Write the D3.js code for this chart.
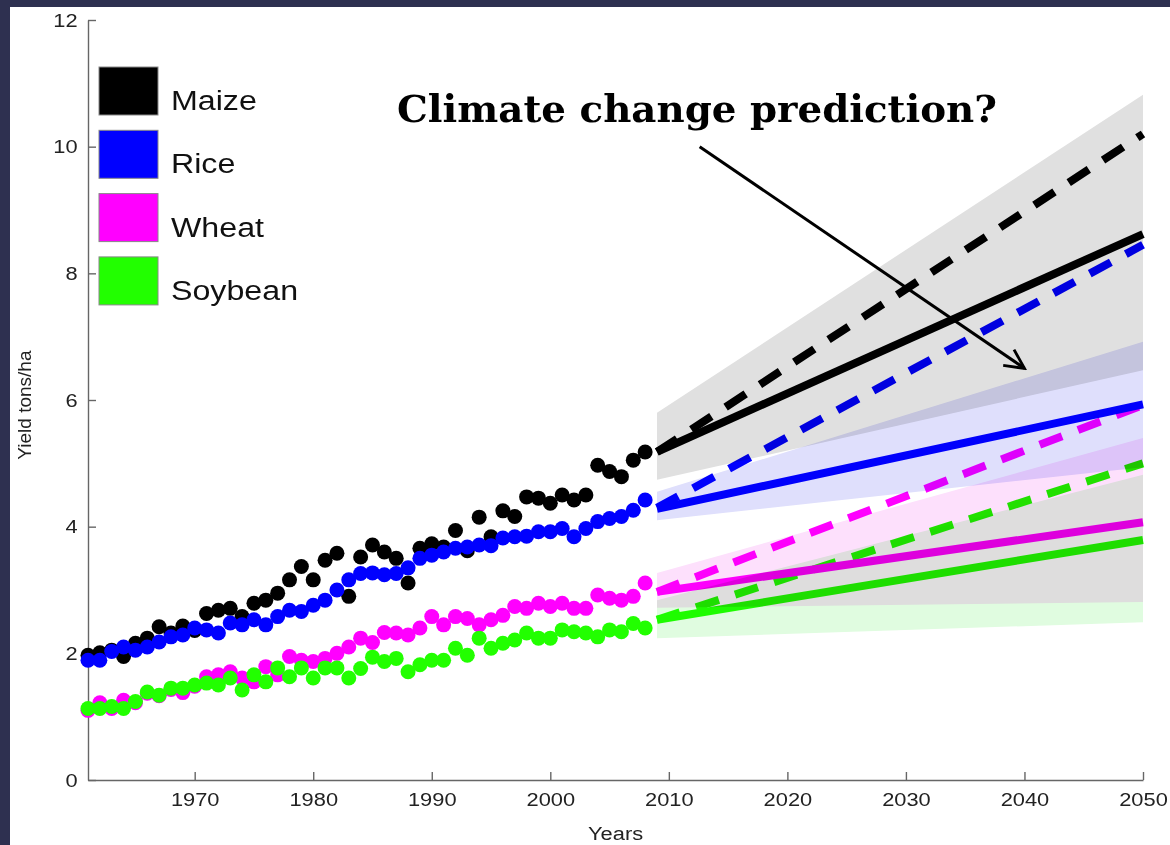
<!DOCTYPE html>
<html>
<head>
<meta charset="utf-8">
<script src="https://cdn.jsdelivr.net/npm/d3@7/dist/d3.min.js"></script>
<style>
  html, body { margin: 0; padding: 0; background: #2e3050; }
  #chart { width: 1170px; height: 845px; }
  .axis path, .axis line { stroke: #666; stroke-width: 1.4; }
  .axis text { font-family: "Liberation Sans", Arial, sans-serif; font-size: 19px; fill: #222; }
</style>
</head>
<body>
<div id="chart"></div>
<script>
// Observed yields 1961-2008 (tons/ha)
const firstYear = 1961;
const maize = [1.97, 2.01, 2.05, 1.95, 2.16, 2.24, 2.42, 2.32, 2.43, 2.36,
  2.63, 2.68, 2.71, 2.58, 2.79, 2.84, 2.95, 3.16, 3.37, 3.16,
  3.47, 3.58, 2.90, 3.52, 3.71, 3.60, 3.50, 3.11, 3.66, 3.73,
  3.68, 3.94, 3.62, 4.15, 3.84, 4.25, 4.16, 4.47, 4.45, 4.37,
  4.50, 4.42, 4.50, 4.97, 4.87, 4.79, 5.05, 5.18];
const rice = [1.89, 1.89, 2.03, 2.10, 2.05, 2.10, 2.18, 2.26, 2.29, 2.40,
  2.37, 2.32, 2.48, 2.45, 2.53, 2.45, 2.58, 2.68, 2.66, 2.76,
  2.84, 3.00, 3.16, 3.26, 3.27, 3.24, 3.26, 3.35, 3.50, 3.55,
  3.60, 3.66, 3.68, 3.71, 3.70, 3.82, 3.84, 3.85, 3.92, 3.92,
  3.97, 3.84, 3.97, 4.08, 4.13, 4.16, 4.26, 4.42];
const wheat = [1.10, 1.22, 1.13, 1.26, 1.22, 1.37, 1.33, 1.43, 1.38, 1.48,
  1.63, 1.66, 1.71, 1.61, 1.55, 1.79, 1.66, 1.95, 1.89, 1.87,
  1.92, 2.00, 2.10, 2.24, 2.17, 2.33, 2.32, 2.29, 2.40, 2.58,
  2.45, 2.58, 2.55, 2.45, 2.53, 2.60, 2.74, 2.71, 2.79, 2.74,
  2.79, 2.71, 2.71, 2.92, 2.87, 2.84, 2.90, 3.11];
const soybean = [1.13, 1.13, 1.16, 1.13, 1.24, 1.39, 1.34, 1.45, 1.45, 1.50,
  1.53, 1.50, 1.61, 1.42, 1.66, 1.55, 1.77, 1.63, 1.77, 1.61,
  1.77, 1.77, 1.61, 1.76, 1.94, 1.87, 1.92, 1.71, 1.82, 1.89,
  1.89, 2.08, 1.97, 2.24, 2.08, 2.16, 2.21, 2.32, 2.24, 2.24,
  2.37, 2.34, 2.32, 2.26, 2.37, 2.34, 2.47, 2.40];

// Projections: values at [2009, 2050]
const projYears = [2009, 2050];
const maizeSolid = [5.18, 8.62], maizeDashed = [5.18, 10.2];
const riceSolid = [4.28, 5.93], riceDashed = [4.30, 8.45];
const wheatSolid = [2.97, 4.07], wheatDashed = [2.97, 5.92];
const soySolid = [2.53, 3.79], soyDashed = [2.53, 5.00];
// Uncertainty bands: low / high at [2009, 2050]
const maizeBandLow = [4.74, 6.47], maizeBandHigh = [5.80, 10.82];
const riceBandLow = [4.10, 4.94], riceBandHigh = [4.55, 6.92];
const wheatBandLow = [2.72, 2.81], wheatBandHigh = [3.27, 5.40];
const soyBandLow = [2.24, 2.49], soyBandHigh = [2.84, 4.82];

const cropNames = ["Maize", "Rice", "Wheat", "Soybean"];
const cropColors = ["#000000", "#0000ff", "#ff00ff", "#22ff00"];
const bandColors = ["#e0e0e0", "#dfdffc", "#fde0fc", "#e0fce0"];

const yTicks = [0, 2, 4, 6, 8, 10, 12];
const xTicks = [1970, 1980, 1990, 2000, 2010, 2020, 2030, 2040, 2050];
const arrowFrom = [2012.6, 10.0], arrowTo = [2040, 6.5];

const width = 1170, height = 845;
const margin = { top: 20, right: 27, bottom: 65, left: 88 };
const stretch = 1.15;

const svg = d3.select("#chart").append("svg")
  .attr("width", width).attr("height", height);

// white page area inside the dark slide frame
svg.append("rect").attr("x", 10).attr("y", 7)
  .attr("width", width - 10).attr("height", height - 7).attr("fill", "#fff");

const x = d3.scaleLinear().domain([1961, 2050]).range([margin.left, width - margin.right]);
const y = d3.scaleLinear().domain([0, 12]).range([height - margin.bottom, margin.top]);

// Axes (MATLAB style, ticks pointing inward)
const xAxis = svg.append("g").attr("class", "axis")
  .attr("transform", `translate(0,${height - margin.bottom})`)
  .call(d3.axisBottom(x).tickValues(xTicks).tickFormat(d3.format("d"))
    .tickSize(-8).tickSizeOuter(0).tickPadding(13));
xAxis.selectAll("text").attr("transform", `scale(${stretch},1)`);

const yAxis = svg.append("g").attr("class", "axis")
  .attr("transform", `translate(${margin.left},0)`)
  .call(d3.axisLeft(y).tickValues(yTicks).tickSize(-8).tickSizeOuter(0).tickPadding(9));
yAxis.selectAll("text").attr("transform", `scale(${stretch},1)`);

svg.append("text")
  .attr("x", (margin.left + width - margin.right) / 2).attr("y", 840)
  .attr("text-anchor", "middle")
  .attr("transform", `translate(${-(stretch - 1) * 615},0) scale(${stretch},1)`)
  .style("font-family", "Liberation Sans, Arial, sans-serif").style("font-size", "19px").style("fill", "#222")
  .text("Years");

svg.append("text")
  .attr("transform", `translate(31,${y(5.92)}) rotate(-90)`)
  .attr("text-anchor", "middle")
  .style("font-family", "Liberation Sans, Arial, sans-serif").style("font-size", "19px").style("fill", "#222")
  .text("Yield tons/ha");

// Observed data points
const observed = [maize, rice, wheat, soybean];
observed.forEach((series, i) => {
  svg.append("g").selectAll("circle")
    .data(series)
    .join("circle")
    .attr("cx", (d, j) => x(firstYear + j))
    .attr("cy", d => y(d))
    .attr("r", 7.5)
    .attr("fill", cropColors[i]);
});

// Projection lines
const line = d3.line().x((d, i) => x(projYears[i])).y(d => y(d));
const solids = [maizeSolid, riceSolid, wheatSolid, soySolid];
const dashes = [maizeDashed, riceDashed, wheatDashed, soyDashed];
dashes.forEach((s, i) => {
  svg.append("path").attr("d", line(s))
    .attr("fill", "none").attr("stroke", cropColors[i])
    .attr("stroke-width", 8).attr("stroke-dasharray", "24,17");
});
solids.forEach((s, i) => {
  svg.append("path").attr("d", line(s))
    .attr("fill", "none").attr("stroke", cropColors[i]).attr("stroke-width", 8);
});

// Uncertainty bands (blended on top)
const area = d3.area()
  .x((d, i) => x(projYears[i]))
  .y0(d => y(d[0])).y1(d => y(d[1]));
const bands = [
  [maizeBandLow, maizeBandHigh],
  [riceBandLow, riceBandHigh],
  [wheatBandLow, wheatBandHigh],
  [soyBandLow, soyBandHigh]
];
bands.forEach(([lo, hi], i) => {
  svg.append("path")
    .attr("d", area(lo.map((v, k) => [v, hi[k]])))
    .attr("fill", bandColors[i])
    .style("mix-blend-mode", "multiply");
});

// Legend
const legend = svg.append("g").attr("transform", "translate(99,67)");
cropNames.forEach((name, i) => {
  const g = legend.append("g").attr("transform", `translate(0,${i * 63.3})`);
  g.append("rect").attr("width", 59).attr("height", 48)
    .attr("fill", cropColors[i]).attr("stroke", "#888").attr("stroke-width", 1);
  g.append("text").attr("x", 72 / stretch).attr("y", 43)
    .attr("transform", `scale(${stretch},1)`)
    .style("font-family", "Liberation Sans, Arial, sans-serif").style("font-size", "28px").style("fill", "#111")
    .text(name);
});

// Annotation
svg.append("text")
  .attr("x", 397).attr("y", 122)
  .attr("textLength", 600).attr("lengthAdjust", "spacingAndGlyphs")
  .style("font-family", "'DejaVu Serif', 'Liberation Serif', serif")
  .style("font-weight", "bold").style("font-size", "38px").style("fill", "#000")
  .text("Climate change prediction?");

svg.append("defs").append("marker")
  .attr("id", "head").attr("viewBox", "0 0 10 10")
  .attr("refX", 9).attr("refY", 5)
  .attr("markerWidth", 24).attr("markerHeight", 24)
  .attr("markerUnits", "userSpaceOnUse")
  .attr("orient", "auto")
  .append("path").attr("d", "M1,1 L9,5 L1,9")
  .attr("fill", "none").attr("stroke", "#000").attr("stroke-width", 1.2);

svg.append("line")
  .attr("x1", x(arrowFrom[0])).attr("y1", y(arrowFrom[1]))
  .attr("x2", x(arrowTo[0])).attr("y2", y(arrowTo[1]))
  .attr("stroke", "#000").attr("stroke-width", 3)
  .attr("marker-end", "url(#head)");
</script>
</body>
</html>
